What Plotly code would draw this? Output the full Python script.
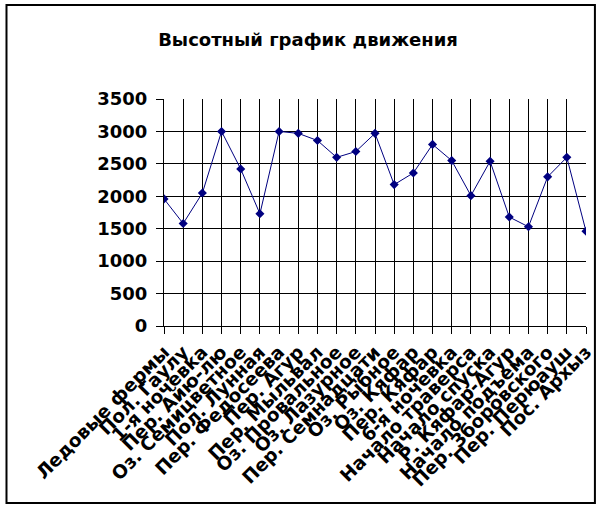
import plotly.graph_objects as go

categories = ["Ледовые фермы", "Пол. Гаулу", "1-я ночевка", "Пер. Айю-лю",
              "Оз. Семицветное", "Пол. Лунная", "Пер. Федосеева", "Пер. Агур",
              "Пер. Мыльвал", "Оз. Провальное", "Оз. Лазурное", "Пер. Семнадцати",
              "Оз. Рыбное", "Оз. Кяфар", "Пер. Кяфар", "6-я ночевка",
              "Начало траверса", "Начало спуска", "Р. Кяфар-Агур", "Начало подъема",
              "Пер. Зборовского", "Пер. Перюауш", "Пос. Архыз"]
heights = [1960, 1580, 2050, 3000, 2420, 1730, 3000, 2970, 2860, 2600, 2690,
           2970, 2180, 2360, 2800, 2550, 2010, 2540, 1680, 1530, 2300, 2600, 1460]
y_ticks = [0, 500, 1000, 1500, 2000, 2500, 3000, 3500]
title_text = "Высотный график движения"

W, H = 607, 511
L, R, T, B = 164, 590, 99, 326

fig = go.Figure(go.Scatter(
    x=list(range(len(categories))), y=heights, mode="lines+markers",
    line=dict(color="#000080", width=1),
    marker=dict(symbol="diamond", size=7, color="#000080"),
))

font = "DejaVu Sans"
fig.update_layout(
    width=W, height=H,
    margin=dict(l=L, r=W - R, t=T, b=H - B, pad=0),
    paper_bgcolor="white", plot_bgcolor="white",
    showlegend=False,
    title=dict(text="<b>" + title_text + "</b>", xref="container", yref="container",
               x=308 / W, y=1 - 40 / H, xanchor="center", yanchor="middle",
               font=dict(family=font, size=18, color="black")),
    font=dict(family=font, color="black"),
)
fig.update_xaxes(
    range=[0, len(categories) - 1], tickmode="array",
    tickvals=list(range(len(categories))),
    ticktext=["<b>" + c + "</b>" for c in categories],
    tickangle=-45, tickfont=dict(family=font, size=18.5, color="black"),
    showgrid=True, gridcolor="black", gridwidth=1,
    ticks="outside", ticklen=7, tickcolor="black",
    showline=True, linecolor="black", linewidth=1, zeroline=False,
)
fig.update_yaxes(
    range=[0, 3500], tickmode="array", tickvals=y_ticks,
    ticktext=["<b>%d</b>" % v for v in y_ticks],
    tickfont=dict(family=font, size=18, color="black"),
    ticklabelstandoff=5,
    showgrid=True, gridcolor="black", gridwidth=1,
    ticks="outside", ticklen=7, tickcolor="black",
    showline=True, linecolor="black", linewidth=1, zeroline=False,
)
pw, ph = R - L, B - T
fig.add_shape(type="rect", xref="paper", yref="paper",
              x0=(5 - L) / pw, x1=(599 - L) / pw,
              y0=(B - 503) / ph, y1=(B - 5) / ph,
              line=dict(color="black", width=2), fillcolor="rgba(0,0,0,0)",
              layer="below")

fig.write_html("out.html", config={"displayModeBar": False},
               post_script="document.body.style.margin='0';document.body.style.padding='0';")
